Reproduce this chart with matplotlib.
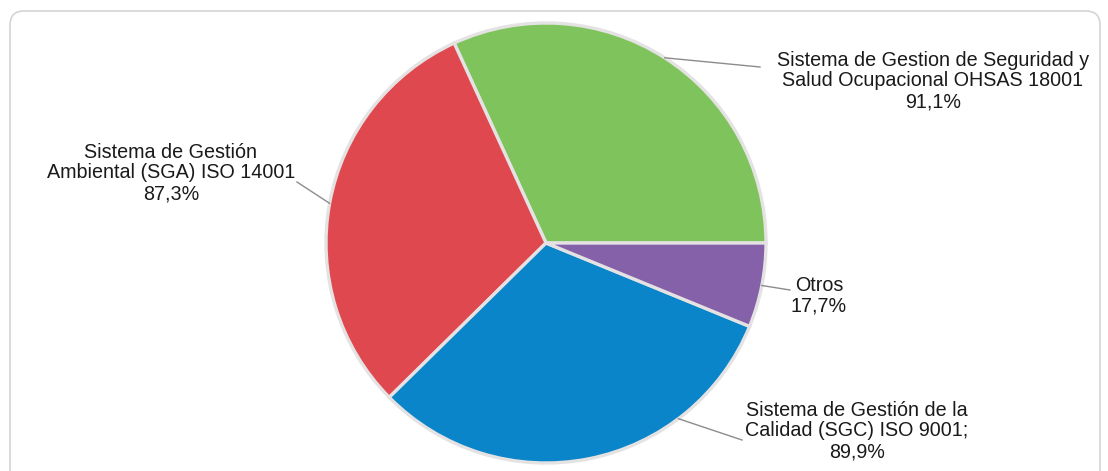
import numpy as np
import matplotlib
matplotlib.use("Agg")
import matplotlib.pyplot as plt
from matplotlib.patches import FancyBboxPatch

plt.rcParams['font.family'] = ['Liberation Sans', 'DejaVu Sans']

# data (order counter-clockwise starting at 3 o'clock)
labels = [
    "Sistema de Gestion de Seguridad y\nSalud Ocupacional OHSAS 18001\n91,1%",
    "Sistema de Gestión\nAmbiental (SGA) ISO 14001\n87,3%",
    "Sistema de Gestión de la\nCalidad (SGC) ISO 9001;\n89,9%",
    "Otros\n17,7%",
]
values = [91.1, 87.3, 89.9, 17.7]
colors = ['#7ec35b', '#e0484f', '#0a85c9', '#8561a9']

# label placement (pixel coords, y from top) and where the leader touches the pie
label_pos = [(933, 81), (171, 173), (857, 431), (819, 296)]
leader_end = [(760, 67), (297, 182), (742, 440), (790, 290)]
leader_angle = [None, None, 307, None]   # None -> middle of the wedge

W, H = 1108, 471
fig = plt.figure(figsize=(W / 100, H / 100), dpi=100)
ax = fig.add_axes([0, 0, 1, 1])

cx, cy, r = 546, H - 243, 220

# rounded panel
panel = FancyBboxPatch((10, -30), 1090, H - 10 + 30 - 10 + 9,
                       boxstyle="round,pad=0,rounding_size=14",
                       facecolor='white', edgecolor='#d4d4d4', linewidth=1.2)
ax.add_patch(panel)

wedges, _ = ax.pie(values, colors=colors, startangle=0, counterclock=True,
                   center=(cx, cy), radius=r,
                   wedgeprops=dict(edgecolor='#e4e2e2', linewidth=2.4))

total = sum(values)
start = 0.0
for i, v in enumerate(values):
    span = v / total * 360
    ang = leader_angle[i] if leader_angle[i] is not None else start + span / 2
    start += span
    a = np.deg2rad(ang)
    px, py = cx + r * np.cos(a), cy + r * np.sin(a)
    ex, ey = leader_end[i]
    ax.plot([px, ex], [py, H - ey], color='#8c8c8c', linewidth=1.0, zorder=1)
    tx, ty = label_pos[i]
    ax.text(tx, H - ty, labels[i], ha='center', va='center',
            multialignment='center', fontsize=14.2, color='#1a1a1a',
            linespacing=1.12)

ax.set_xlim(0, W)
ax.set_ylim(0, H)
ax.set_aspect('auto')
ax.axis('off')

fig.savefig('out.png', dpi=100, facecolor='white')
